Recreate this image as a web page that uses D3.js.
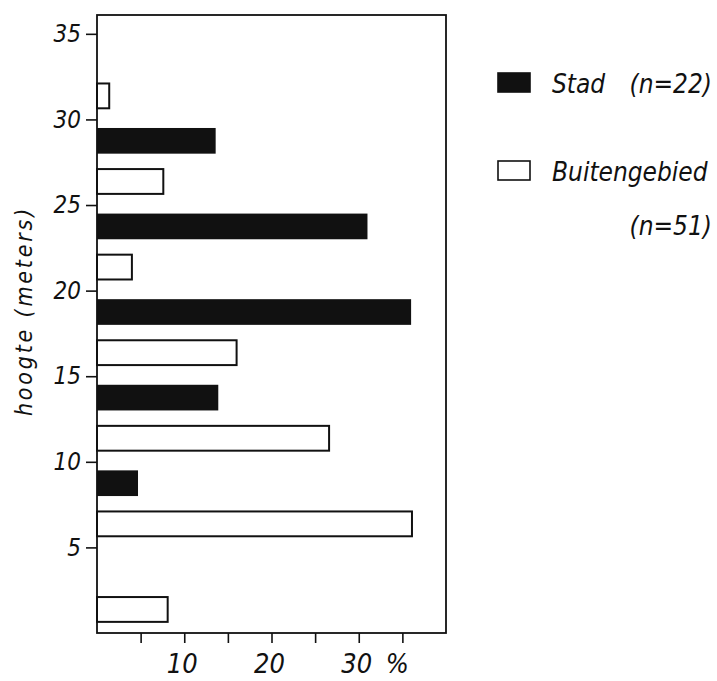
<!DOCTYPE html>
<html>
<head>
<meta charset="utf-8">
<script src="https://cdn.jsdelivr.net/npm/d3@7/dist/d3.min.js"></script>
<style>
  body { margin: 0; background: #fff; }
  text { font-family: "DejaVu Sans Condensed", "DejaVu Sans", sans-serif; font-style: italic; fill: #111; }
</style>
</head>
<body>
<div id="chart"></div>
<script>
// height classes (lower bound, meters) and percentages per class
var classes = [0, 5, 10, 15, 20, 25, 30];
var stad = [0, 4.7, 13.9, 36.0, 31.0, 13.6, 0];
var buiten = [8.1, 36.1, 26.6, 16.0, 4.0, 7.6, 1.4];
var yTicks = [5, 10, 15, 20, 25, 30, 35];
var xTicks = [5, 10, 15, 20, 25, 30, 35];
var xLabels = [10, 20, 30];
var legendNames = ["Stad", "Buitengebied"];
var legendN = ["(n=22)", "(n=51)"];

var width = 717,
  height = 681;

var svg = d3.select("#chart").append("svg")
  .attr("width", width)
  .attr("height", height);

var x = d3.scaleLinear().domain([0, 40]).range([97, 446]);
var y = d3.scaleLinear().domain([0, 36.1]).range([633, 15]);

// bars: stad on top of each class, buitengebied below
classes.forEach(function(lo, i) {
  var top = lo + 5;
  if (stad[i] > 0) {
    svg.append("rect")
      .attr("x", x(0))
      .attr("y", y(top - 0.5))
      .attr("width", x(stad[i]) - x(0))
      .attr("height", y(top - 2.0) - y(top - 0.5))
      .attr("fill", "#111");
  }
  if (buiten[i] > 0) {
    svg.append("rect")
      .attr("x", x(0))
      .attr("y", y(top - 2.9))
      .attr("width", x(buiten[i]) - x(0))
      .attr("height", y(top - 4.35) - y(top - 2.9))
      .attr("fill", "#fff")
      .attr("stroke", "#111")
      .attr("stroke-width", 2);
  }
});

// frame
svg.append("rect")
  .attr("x", x(0))
  .attr("y", y(36.1))
  .attr("width", x(40) - x(0))
  .attr("height", y(0) - y(36.1))
  .attr("fill", "none")
  .attr("stroke", "#111")
  .attr("stroke-width", 1.8);

// left axis
var yAxis = svg.append("g")
  .attr("transform", "translate(" + x(0) + ",0)")
  .call(d3.axisLeft(y).tickValues(yTicks).tickSize(11).tickPadding(5));
yAxis.select(".domain").remove();
yAxis.selectAll("line").attr("stroke", "#111").attr("stroke-width", 1.6);
yAxis.selectAll("text")
  .attr("font-size", 24)
  .attr("font-family", null)
  .attr("fill", "#111");

// bottom axis, ticks hanging down
var xAxis = svg.append("g")
  .attr("transform", "translate(0," + y(0) + ")")
  .call(d3.axisBottom(x).tickValues(xTicks).tickSize(10).tickFormat(""));
xAxis.select(".domain").remove();
xAxis.selectAll("line").attr("stroke", "#111").attr("stroke-width", 1.6);

svg.selectAll(".xlabel")
  .data(xLabels)
  .enter().append("text")
    .attr("class", "xlabel")
    .attr("x", function(d) { return x(d) - 2; })
    .attr("y", 673)
    .attr("text-anchor", "middle")
    .attr("font-size", 27)
    .text(function(d) { return d; });

svg.append("text")
  .attr("x", x(30) + 27)
  .attr("y", 673)
  .attr("font-size", 27)
  .text("%");

// axis title
svg.append("text")
  .attr("transform", "translate(32,311) rotate(-90)")
  .attr("text-anchor", "middle")
  .attr("font-size", 23)
  .attr("letter-spacing", 2.8)
  .text("hoogte  (meters)");

// legend
var legend = svg.append("g");
legendNames.forEach(function(name, i) {
  var ly = 73 + i * 88;
  legend.append("rect")
    .attr("x", 498)
    .attr("y", ly)
    .attr("width", 32)
    .attr("height", 19)
    .attr("fill", i === 0 ? "#111" : "#fff")
    .attr("stroke", "#111")
    .attr("stroke-width", 1.6);
  legend.append("text")
    .attr("x", 552)
    .attr("y", ly + 20)
    .attr("font-size", 26)
    .text(name);
});
legend.append("text")
  .attr("x", 712)
  .attr("y", 93)
  .attr("text-anchor", "end")
  .attr("font-size", 26)
  .text(legendN[0]);
legend.append("text")
  .attr("x", 712)
  .attr("y", 235)
  .attr("text-anchor", "end")
  .attr("font-size", 26)
  .text(legendN[1]);
</script>
</body>
</html>
